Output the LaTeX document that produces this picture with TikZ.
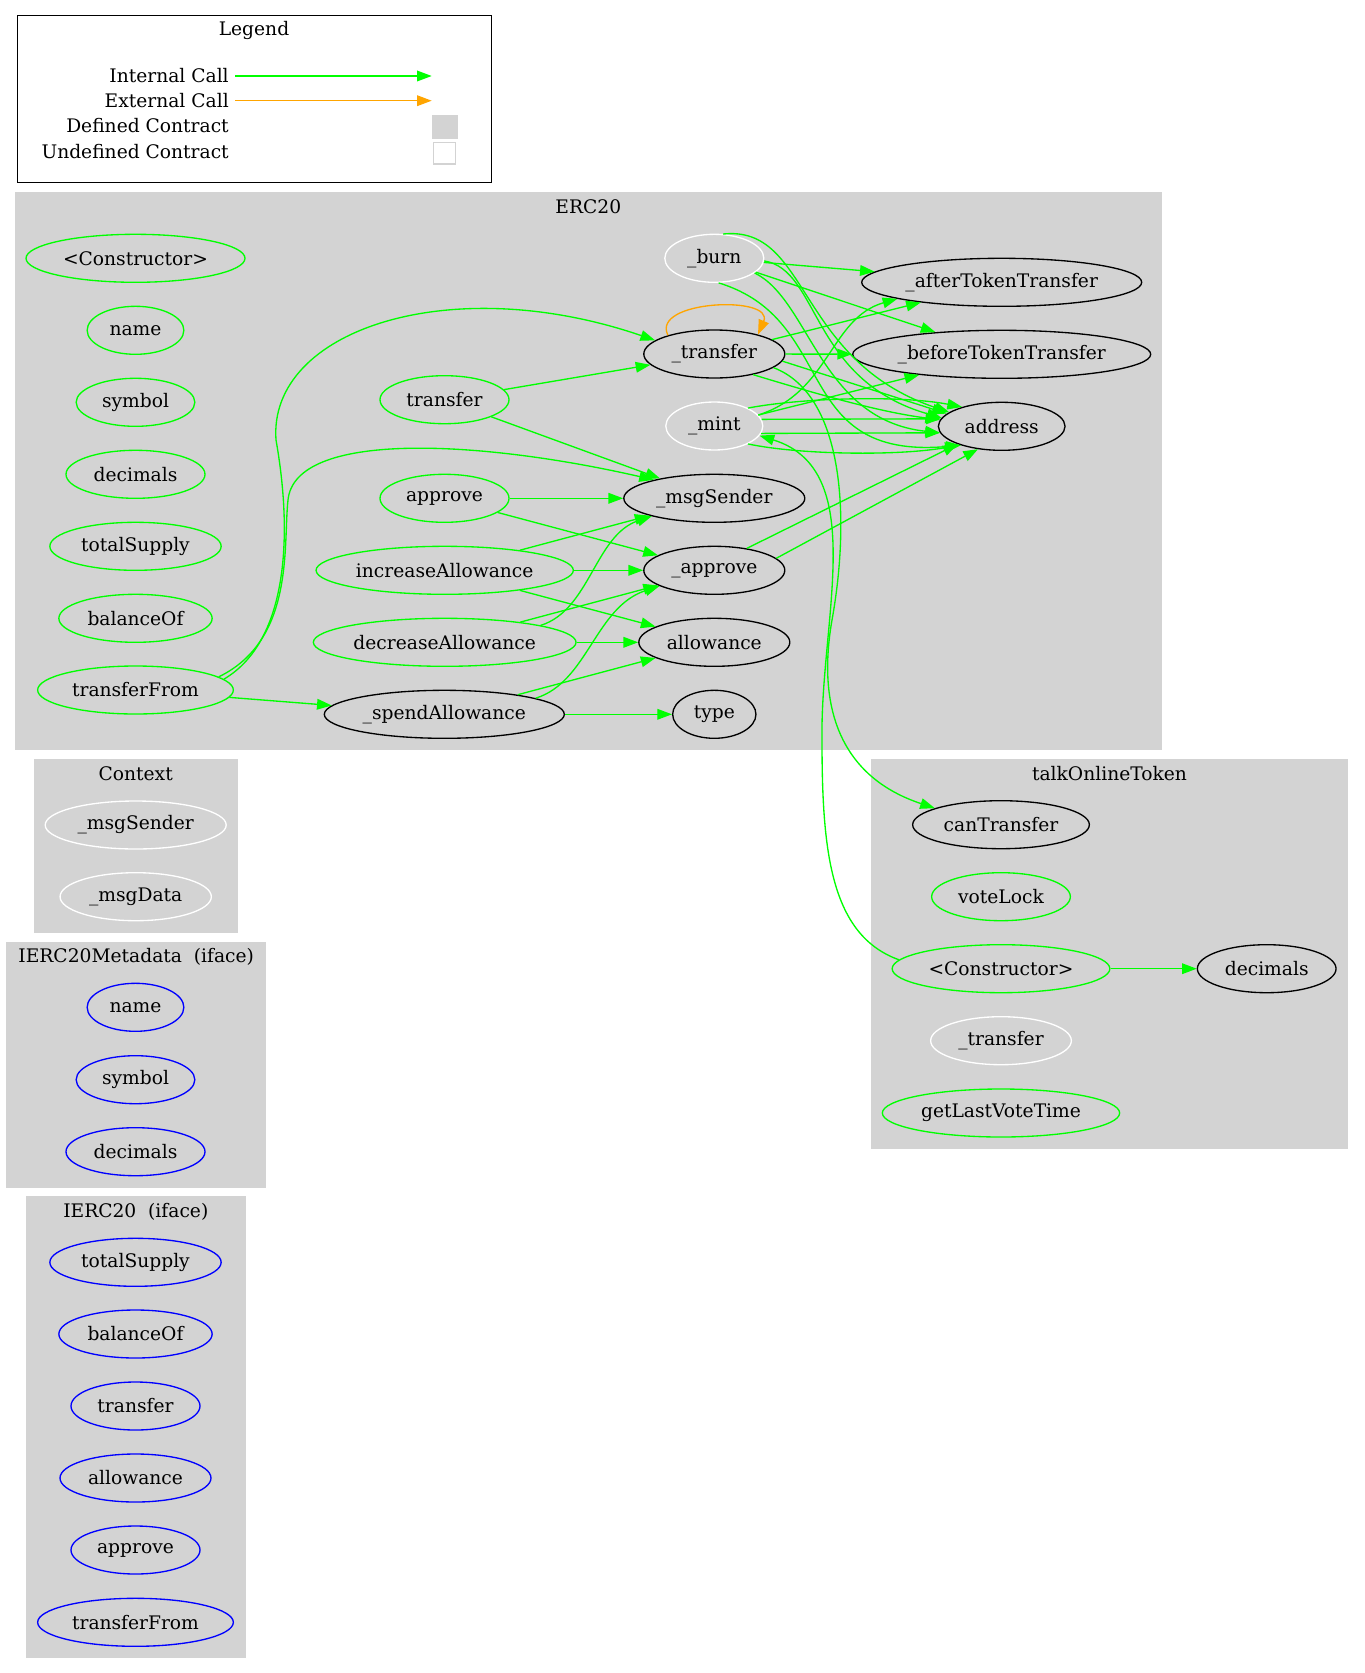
\documentclass[tikz,border=0pt]{standalone}
\usepackage{fontspec}
\setmainfont{DejaVu Serif}
\usepackage{tikz}
\usetikzlibrary{shapes.geometric,arrows.meta}
\definecolor{gvgreen}{HTML}{00FF00}
\definecolor{gvorange}{HTML}{FFA500}
\definecolor{gvgray}{HTML}{D3D3D3}
\definecolor{gvblue}{HTML}{0000FF}
\tikzset{
  fn/.style={ellipse, minimum height=36pt, inner sep=0pt, line width=1pt, text=black},
  pub/.style={fn, draw=gvgreen},
  intl/.style={fn, draw=white},
  ext/.style={fn, draw=black},
  ifc/.style={fn, draw=gvblue},
  wd/.style={minimum width=#1*0.75pt},
  call/.style={draw=gvgreen, line width=1pt, -{Triangle[length=11pt,width=8pt]}},
  xcall/.style={draw=gvorange, line width=1pt, -{Triangle[length=11pt,width=8pt]}},
  cluster/.style={fill=gvgray, draw=gvgray},
  lbl/.style={inner sep=0pt},
}

\begin{document}
\begin{tikzpicture}[x=0.75pt, y=-0.75pt, font=\fontsize{14}{17}\selectfont]
  \useasboundingbox (0,0) rectangle (1364,1673);

  % clusters
  \path[cluster] (15,192.7) rectangle (1161.7,749.3);
  \path[cluster] (34.3,759.3) rectangle (237,932.3);
  \path[cluster] (6.7,942.3) rectangle (265.7,1187.3);
  \path[cluster] (26.7,1196.7) rectangle (245,1657.3);
  \path[cluster] (871.7,759.3) rectangle (1347.3,1148.3);
  \node[lbl] (lblErc) at (588.3,207) {ERC20};
  \node[lbl] (lblCtx) at (135.7,773.7) {Context};
  \node[lbl] (lblMeta) at (136.2,956.7) {IERC20Metadata~~(iface)};
  \node[lbl] (lblIf) at (135.8,1211.7) {IERC20~~(iface)};
  \node[lbl] (lblTok) at (1109.5,773.7) {talkOnlineToken};

  % legend
  \draw[line width=1pt] (17.3,15.7) rectangle (491.7,182.7);
  \node[lbl] (legTitle) at (254,30) {Legend};
  \node[lbl, anchor=east, inner xsep=4.5pt] (legInt) at (235,76) {Internal Call};
  \node[lbl, anchor=east, inner xsep=4.5pt] (legExt) at (235,100.7) {External Call};
  \node[lbl, anchor=east] (legDef) at (229,126) {Defined Contract};
  \node[lbl, anchor=east] (legUndef) at (229,152) {Undefined Contract};
  \coordinate (legIntEnd) at (431.7,76);
  \coordinate (legExtEnd) at (431.7,100.7);
  \draw[call] (legInt) -- (legIntEnd);
  \draw[xcall] (legExt) -- (legExtEnd);
  \fill[gvgray] (431.7,115) rectangle (457.7,139.3);
  \draw[gvgray, fill=white, line width=1pt] (433.7,142.7) rectangle (455.3,164);

  % ERC20
  \node[pub, wd=219] (ercCtor) at (135.5,258.3) {<Constructor>};
  \node[pub, wd=96.7] (ercName) at (135.5,330.3) {name};
  \node[pub, wd=118.7] (ercSymbol) at (135.5,402.3) {symbol};
  \node[pub, wd=139] (ercDecimals) at (135.5,474.3) {decimals};
  \node[pub, wd=171.3] (ercTotalSupply) at (135.5,546.3) {totalSupply};
  \node[pub, wd=153.3] (ercBalanceOf) at (135.5,618.3) {balanceOf};
  \node[pub, wd=195.7] (ercTransferFrom) at (135.5,690) {transferFrom};
  \node[pub, wd=129] (ercTransfer) at (444.5,399.7) {transfer};
  \node[pub, wd=129] (ercApprove) at (444.5,498.3) {approve};
  \node[pub, wd=257.3] (ercIncAllow) at (444.7,570.3) {increaseAllowance};
  \node[pub, wd=262.7] (ercDecAllow) at (444.7,642.3) {decreaseAllowance};
  \node[ext, wd=240] (ercSpendAllow) at (444.3,714.3) {\_spendAllowance};
  \node[intl, wd=99] (ercBurn) at (714.3,258.3) {\_burn};
  \node[ext, wd=141] (ercTransferU) at (714.3,354) {\_transfer};
  \node[intl, wd=97] (ercMint) at (714.3,426) {\_mint};
  \node[ext, wd=181] (ercMsgSender) at (714.3,498.3) {\_msgSender};
  \node[ext, wd=141] (ercApproveU) at (714.3,570.3) {\_approve};
  \node[ext, wd=151] (ercAllowance) at (714.3,642.3) {allowance};
  \node[ext, wd=83.3] (ercType) at (714.3,714.3) {type};
  \node[ext, wd=280] (ercAfter) at (1001.7,282.3) {\_afterTokenTransfer};
  \node[ext, wd=298] (ercBefore) at (1001.7,354.3) {\_beforeTokenTransfer};
  \node[ext, wd=126.7] (ercAddress) at (1001.7,426.3) {address};

  % Context
  \node[intl, wd=181] (ctxMsgSender) at (135.7,825) {\_msgSender};
  \node[intl, wd=151.3] (ctxMsgData) at (135.7,896.7) {\_msgData};

  % IERC20Metadata
  \node[ifc, wd=96.7] (metaName) at (135.5,1007.3) {name};
  \node[ifc, wd=118.7] (metaSymbol) at (135.5,1079.7) {symbol};
  \node[ifc, wd=139] (metaDecimals) at (135.5,1151.7) {decimals};

  % IERC20
  \node[ifc, wd=171.3] (ifTotalSupply) at (135.5,1262.3) {totalSupply};
  \node[ifc, wd=153.3] (ifBalanceOf) at (135.5,1334) {balanceOf};
  \node[ifc, wd=129] (ifTransfer) at (135.5,1406) {transfer};
  \node[ifc, wd=151] (ifAllowance) at (135.5,1478) {allowance};
  \node[ifc, wd=129] (ifApprove) at (135.5,1550) {approve};
  \node[ifc, wd=195.7] (ifTransferFrom) at (135.5,1622.3) {transferFrom};

  % talkOnlineToken
  \node[ext, wd=176.7] (tokCanTransfer) at (1001,824.7) {canTransfer};
  \node[pub, wd=138.7] (tokVoteLock) at (1001,896.7) {voteLock};
  \node[pub, wd=217.7] (tokCtor) at (1001,968.7) {<Constructor>};
  \node[intl, wd=140.7] (tokTransferU) at (1001,1040.7) {\_transfer};
  \node[pub, wd=237.3] (tokLastVote) at (1001,1113) {getLastVoteTime};
  \node[ext, wd=138.7] (tokDecimals) at (1266.7,968.7) {decimals};

  % calls
  \draw[call] (ercTransfer) -- (ercTransferU);
  \draw[call] (ercTransfer) -- (ercMsgSender);
  \draw[call] (ercApprove) -- (ercMsgSender);
  \draw[call] (ercApprove) -- (ercApproveU);
  \draw[call] (ercIncAllow) -- (ercMsgSender);
  \draw[call] (ercIncAllow) -- (ercApproveU);
  \draw[call] (ercIncAllow) -- (ercAllowance);
  \draw[call] (ercDecAllow) -- (ercApproveU);
  \draw[call] (ercDecAllow) -- (ercAllowance);
  \draw[call] (ercDecAllow.10) .. controls (590,610) and (595,535) .. (ercMsgSender.196);
  \draw[call] (ercSpendAllow) -- (ercAllowance);
  \draw[call] (ercSpendAllow) -- (ercType);
  \draw[call] (ercSpendAllow.10) .. controls (588,682) and (595,607) .. (ercApproveU.196);
  \draw[call] (ercTransferFrom) -- (ercSpendAllow);
  \draw[call] (ercTransferFrom.7) .. controls (290,640) and (292,530) .. (276,440)
    .. controls (268,330) and (450,270) .. (ercTransferU.167);
  \draw[call] (ercTransferFrom.9) .. controls (295,640) and (283,545) .. (288,500)
    .. controls (295,430) and (480,440) .. (ercMsgSender.163);
  \draw[xcall] (ercTransferU.158) .. controls (650,300) and (775,295) .. (ercTransferU.24);
  \draw[call] (ercTransferU) -- (ercBefore);
  \draw[call] (ercTransferU) -- (ercAfter);
  \draw[call] (ercTransferU.-6) -- (ercAddress.167);
  \draw[call] (ercTransferU.-28) .. controls (820,395) and (880,412) .. (ercAddress.174);
  \draw[call] (ercTransferU.-13) .. controls (845,395) and (850,520) .. (832,620)
    .. controls (818,700) and (835,775) .. (tokCanTransfer.166);
  \draw[call] (ercMint) -- (ercBefore);
  \draw[call] (ercMint.14) .. controls (830,392) and (830,318) .. (ercAfter.189);
  \draw[call] (ercMint.28) .. controls (800,398) and (900,395) .. (ercAddress.154);
  \draw[call] (ercMint.8) -- (ercAddress.173);
  \draw[call] (ercMint.-9) -- (ercAddress.186);
  \draw[call] (ercMint.-28) .. controls (800,455) and (900,456) .. (ercAddress.204);
  \draw[call] (ercBurn) -- (ercAfter);
  \draw[call] (ercBurn) -- (ercBefore);
  \draw[call] (ercBurn.70) .. controls (810,225) and (795,360) .. (ercAddress.165);
  \draw[call] (ercBurn.-3) .. controls (820,270) and (810,380) .. (ercAddress.172);
  \draw[call] (ercBurn.-20) .. controls (810,300) and (820,420) .. (ercAddress.186);
  \draw[call] (ercBurn.-80) .. controls (840,320) and (790,460) .. (ercAddress.205);
  \draw[call] (ercApproveU.34) -- (ercAddress.202);
  \draw[call] (ercApproveU.11) -- (ercAddress.224);
  \draw[call] (tokCtor.175) .. controls (830,935) and (822,850) .. (822,740)
    .. controls (820,620) and (870,470) .. (ercMint.-12);
  \draw[call] (tokCtor) -- (tokDecimals);
\end{tikzpicture}
\end{document}
